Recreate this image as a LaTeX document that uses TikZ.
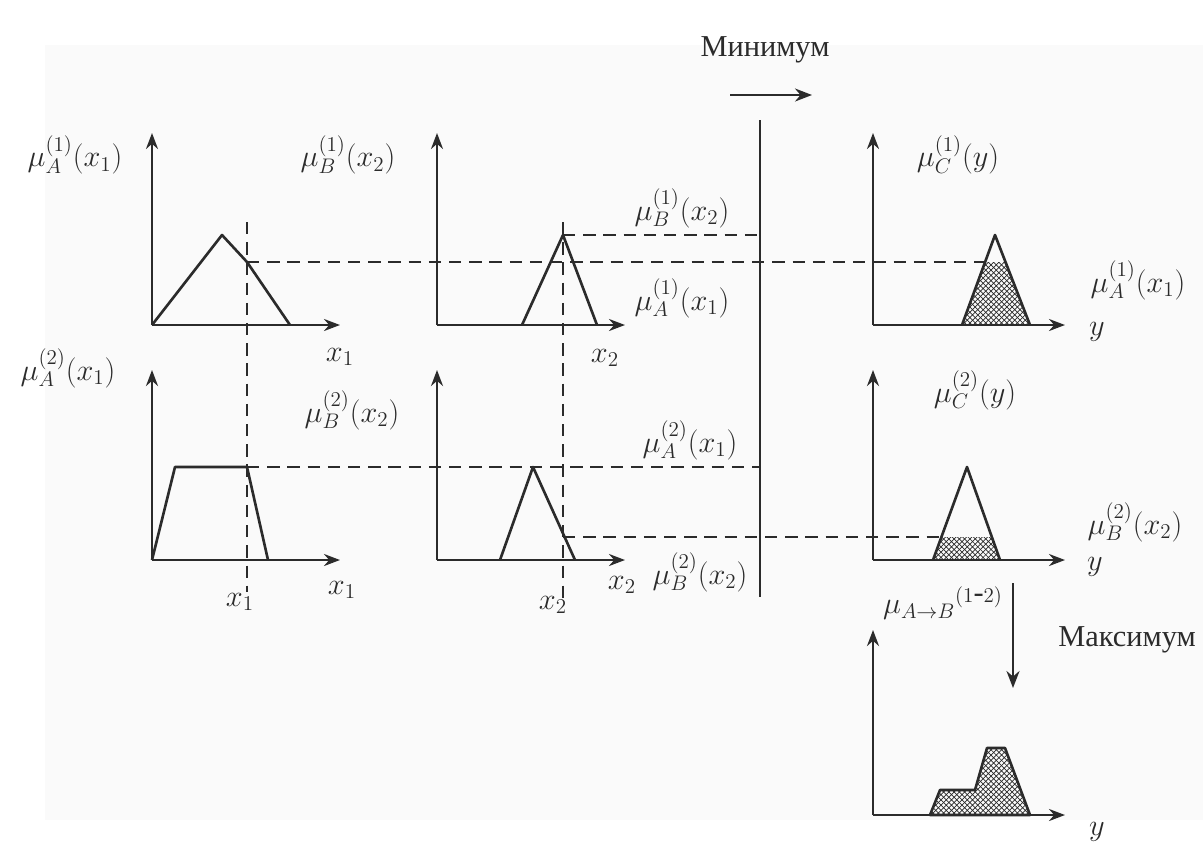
\documentclass[tikz,border=0pt]{standalone}
\usepackage{fontspec}
\setmainfont{Liberation Serif}
\usetikzlibrary{arrows.meta,patterns}
\definecolor{ink}{HTML}{2B2B2B}
\definecolor{paper}{HTML}{FAFAFA}
\tikzset{
  axis/.style={-{Stealth[length=3.2mm, width=2.4mm]}, line width=1.4pt, draw=ink},
  mf/.style={line width=1.5pt, draw=ink, line join=round},
  cut/.style={line width=1.4pt, draw=ink, dash pattern=on 7pt off 4.5pt},
  lbl/.style={font=\LARGE, inner sep=1pt, text=ink},
  hatched/.style={pattern=crosshatch, pattern color=ink},
  arr/.style={-{Stealth[length=3.4mm, width=2.6mm]}, line width=1.4pt, draw=ink}
}

\begin{document}
\begin{tikzpicture}[x=0.02cm, y=-0.02cm]
    \useasboundingbox[fill=white] (0,0) rectangle (1203,850);
    \fill[paper] (45,45) rectangle (1203,820);

    % axes of the six input/output panels and the result
    \foreach \ox/\oy/\top/\name in {152/325/133/a, 437/325/133/b, 873/325/133/c,
                                     152/560/370/d, 437/560/370/e, 873/560/370/f,
                                     873/815/630/g}{
      \coordinate (o\name) at (\ox,\oy);
      \draw[axis] (o\name) -- (\ox,\top);
    }
    \draw[axis] (oa) -- (340,325);
    \draw[axis] (ob) -- (625,325);
    \draw[axis] (oc) -- (1065,325);
    \draw[axis] (od) -- (340,560);
    \draw[axis] (oe) -- (625,560);
    \draw[axis] (of) -- (1065,560);
    \draw[axis] (og) -- (1065,815);

    % membership functions
    \draw[mf] (oa) -- (222,235) -- (247,262) -- (290,325);
    \draw[mf] (522,325) -- (563,235) -- (597,325);
    \fill[hatched] (962,325) -- (985,262) -- (1005.5,262) -- (1030,325) -- cycle;
    \draw[mf] (962,325) -- (995,235) -- (1030,325);
    \draw[mf] (od) -- (175,467) -- (247,467) -- (268,560);
    \draw[mf] (500,560) -- (533,467) -- (575,560);
    \fill[hatched] (933,560) -- (941.4,537) -- (991.8,537) -- (1000,560) -- cycle;
    \draw[mf] (933,560) -- (967,467) -- (1000,560);
    \filldraw[mf, hatched] (930,815) -- (940,790) -- (975,790) -- (987,748)
      -- (1005,748) -- (1030,815) -- cycle;

    % min line
    \coordinate (mtop) at (760,120);
    \coordinate (mbot) at (760,597);
    \draw[line width=1.4pt, draw=ink] (mtop) -- (mbot);

    % crisp inputs and cut levels
    \coordinate (xa) at (247,222);
    \coordinate (xb) at (563,222);
    \draw[cut] (xa) -- (247,592);
    \draw[cut] (xb) -- (563,602);
    \draw[cut] (247,262) -- (985,262);
    \draw[cut] (563,235) -- (mtop |- 563,235);
    \draw[cut] (247,467) -- (mtop |- 247,467);
    \draw[cut] (563,537) -- (941.4,537);

    % labels
    \node[lbl] (la1) at (75,155) {$\mu_A^{(1)}(x_1)$};
    \node[lbl] (lb1) at (348,155) {$\mu_B^{(1)}(x_2)$};
    \node[lbl] (lb1c) at (682,208) {$\mu_B^{(1)}(x_2)$};
    \node[lbl] (la1c) at (682,298) {$\mu_A^{(1)}(x_1)$};
    \node[lbl] (lx1a) at (340,357) {$x_1$};
    \node[lbl] (lx2a) at (605,358) {$x_2$};
    \node[lbl] (lc1) at (958,155) {$\mu_C^{(1)}(y)$};
    \node[lbl] (la1r) at (1138,280) {$\mu_A^{(1)}(x_1)$};
    \node[lbl] (lya) at (1097,332) {$y$};

    \node[lbl] (la2) at (68,368) {$\mu_A^{(2)}(x_1)$};
    \node[lbl] (lb2) at (352,410) {$\mu_B^{(2)}(x_2)$};
    \node[lbl] (la2c) at (690,440) {$\mu_A^{(2)}(x_1)$};
    \node[lbl] (lb2c) at (700,572) {$\mu_B^{(2)}(x_2)$};
    \node[lbl] (lx1b) at (342,590) {$x_1$};
    \node[lbl] (lx2b) at (622,585) {$x_2$};
    \node[lbl] (lx1s) at (240,602) {$x_1$};
    \node[lbl] (lx2s) at (553,605) {$x_2$};
    \node[lbl] (lc2) at (975,390) {$\mu_C^{(2)}(y)$};
    \node[lbl] (lb2r) at (1135,522) {$\mu_B^{(2)}(x_2)$};
    \node[lbl] (lyb) at (1095,567) {$y$};

    \node[lbl] (lab) at (943,603) {${\mu_{A\to B}}^{(1\mbox{-}2)}$};
    \node[lbl] (lyc) at (1097,832) {$y$};

    % operations
    \node[lbl] (minop) at (765,50) {Минимум};
    \coordinate (mina) at (730,95);
    \coordinate (minb) at (812,95);
    \draw[arr] (mina) -- (minb);
    \node[lbl] (maxop) at (1127,640) {Максимум};
    \coordinate (maxa) at (1013,583);
    \coordinate (maxb) at (1013,688);
    \draw[arr] (maxa) -- (maxb);
  \end{tikzpicture}
\end{document}
